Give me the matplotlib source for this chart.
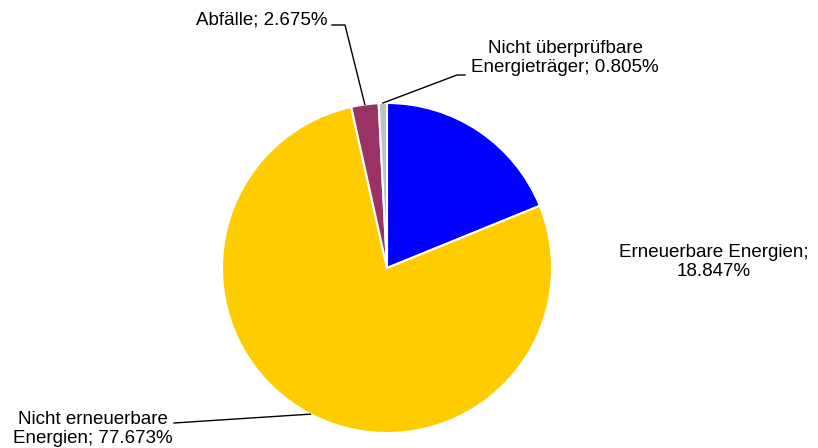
import numpy as np
import matplotlib.pyplot as plt

plt.rcParams['font.family'] = ['Liberation Sans', 'DejaVu Sans']

# data
labels = ['Erneuerbare Energien', 'Nicht erneuerbare Energien', 'Abfälle',
          'Nicht überprüfbare Energieträger']
shares = [18.847, 77.673, 2.675, 0.805]
colors = ['#0000FF', '#FFCC00', '#993366', '#C0C0C0']

# label text with line breaks as in the original
label_texts = ['Erneuerbare Energien;\n18.847%',
               'Nicht erneuerbare\nEnergien; 77.673%',
               'Abfälle; 2.675%',
               'Nicht überprüfbare\nEnergieträger; 0.805%']

W, H = 818, 448
fig = plt.figure(figsize=(W / 100, H / 100), dpi=100)
ax = fig.add_axes([0, 0, 1, 1])

cx, cy, r = 387, H - 268, 165
wedges, _ = ax.pie(shares, colors=colors, startangle=90, counterclock=False,
                   center=(cx, cy), radius=r,
                   wedgeprops=dict(edgecolor='white', linewidth=1.5))
ax.set_xlim(0, W)
ax.set_ylim(0, H)
ax.set_aspect('equal')
ax.axis('off')

def edge_point(w):
    mid = np.deg2rad((w.theta1 + w.theta2) / 2)
    return cx + r * np.cos(mid), cy + r * np.sin(mid)

fs = 13.5
ls = 1.22

# Erneuerbare: no leader
ax.text(714, H - 262, label_texts[0], ha='center', va='center', fontsize=fs,
        linespacing=ls)

# Nicht erneuerbare
px, py = edge_point(wedges[1])
ax.plot([px, 174], [py, H - 423], color='black', lw=1)
ax.text(93, H - 429, label_texts[1], ha='center', va='center', fontsize=fs,
        linespacing=ls)

# Abfälle
px, py = edge_point(wedges[2])
ax.plot([px, 345, 332], [py, H - 25, H - 25], color='black', lw=1)
ax.text(328, H - 20, label_texts[2], ha='right', va='center', fontsize=fs)

# Nicht überprüfbare
px, py = edge_point(wedges[3])
ax.plot([px, 457, 465], [py, H - 75, H - 75], color='black', lw=1)
ax.text(565, H - 58, label_texts[3], ha='center', va='center', fontsize=fs,
        linespacing=ls)

fig.savefig('out.png', dpi=100, facecolor='white')
